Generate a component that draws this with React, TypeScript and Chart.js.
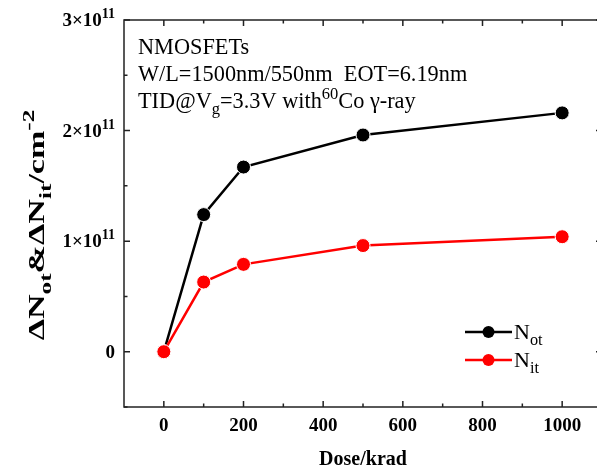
import React, { useEffect, useRef } from "react";
import { Chart, registerables } from "chart.js";

Chart.register(...registerables);

// ---- data ----
const doses = [0, 100, 200, 500, 1000];
const notValues = [0, 1.24e11, 1.67e11, 1.96e11, 2.16e11];
const nitValues = [0, 0.63e11, 0.79e11, 0.96e11, 1.04e11];
const xMajorTicks = [0, 200, 400, 600, 800, 1000];
const xMinorTicks = [100, 300, 500, 700, 900];
const yMajorMantissas = [0, 1, 2, 3]; // × 10^11
const yExponent = 11;
const yMinorTicks = [-0.5e11, 0.5e11, 1.5e11, 2.5e11];
const seriesNames = ["ot", "it"]; // N subscripts
const seriesColors = ["#000000", "#ff0000"];

type Seg = { t: string; s?: "sub" | "sup" };

const SERIF = '"Liberation Serif", "Times New Roman", serif';

function segFont(size: number, weight: string, s?: string) {
  const sz = s ? size * 0.74 : size;
  return `${weight} ${sz}px ${SERIF}`;
}

function measureRich(ctx: CanvasRenderingContext2D, segs: Seg[], size: number, weight: string) {
  let w = 0;
  for (const g of segs) {
    ctx.font = segFont(size, weight, g.s);
    w += ctx.measureText(g.t).width;
  }
  return w;
}

function drawRich(
  ctx: CanvasRenderingContext2D,
  segs: Seg[],
  x: number,
  y: number,
  size: number,
  weight: string,
  align: "left" | "center" | "right",
  color = "#000"
) {
  const total = measureRich(ctx, segs, size, weight);
  let cx = align === "left" ? x : align === "center" ? x - total / 2 : x - total;
  ctx.fillStyle = color;
  ctx.textBaseline = "alphabetic";
  ctx.textAlign = "left";
  for (const g of segs) {
    ctx.font = segFont(size, weight, g.s);
    const dy = g.s === "sub" ? size * 0.28 : g.s === "sup" ? -size * 0.42 : 0;
    ctx.fillText(g.t, cx, y + dy);
    cx += ctx.measureText(g.t).width;
  }
}

const annotationLines: Seg[][] = [
  [{ t: "NMOSFETs" }],
  [{ t: "W/L=1500nm/550nm  EOT=6.19nm" }],
  [
    { t: "TID@V" },
    { t: "g", s: "sub" },
    { t: "=3.3V with" },
    { t: "60", s: "sup" },
    { t: "Co \u03b3-ray" },
  ],
];

const yTitle: Seg[] = [
  { t: "\u0394N" },
  { t: "ot", s: "sub" },
  { t: "&\u0394N" },
  { t: "it", s: "sub" },
  { t: "/cm" },
  { t: "-2", s: "sup" },
];

const decorPlugin = {
  id: "decor",
  afterDraw(chart: any) {
    const { ctx, chartArea: a, scales } = chart;
    const xs = scales.x;
    const ys = scales.y;
    ctx.save();
    // frame
    ctx.strokeStyle = "#222";
    ctx.lineWidth = 1.5;
    ctx.strokeRect(a.left, a.top, a.right - a.left, a.bottom - a.top);
    // ticks (inward, all four sides)
    const major = 6;
    const minor = 3.5;
    ctx.lineWidth = 1.5;
    ctx.beginPath();
    const xt = (v: number, len: number) => {
      const px = xs.getPixelForValue(v);
      ctx.moveTo(px, a.bottom);
      ctx.lineTo(px, a.bottom - len);
      ctx.moveTo(px, a.top);
      ctx.lineTo(px, a.top + len);
    };
    const yt = (v: number, len: number) => {
      const py = ys.getPixelForValue(v);
      ctx.moveTo(a.left, py);
      ctx.lineTo(a.left + len, py);
      ctx.moveTo(a.right, py);
      ctx.lineTo(a.right - len, py);
    };
    xMajorTicks.forEach((v) => xt(v, major));
    xMinorTicks.forEach((v) => xt(v, minor));
    yMajorMantissas.forEach((m) => yt(m * Math.pow(10, yExponent), major));
    yMinorTicks.forEach((v) => yt(v, minor));
    ctx.stroke();

    // x tick labels
    const tickSize = 19;
    xMajorTicks.forEach((v) => {
      drawRich(ctx, [{ t: String(v) }], xs.getPixelForValue(v), a.bottom + 24, tickSize, "bold", "center");
    });
    // y tick labels
    yMajorMantissas.forEach((m) => {
      const py = ys.getPixelForValue(m * Math.pow(10, yExponent));
      const segs: Seg[] =
        m === 0 ? [{ t: "0" }] : [{ t: `${m}\u00d710` }, { t: String(yExponent), s: "sup" }];
      drawRich(ctx, segs, a.left - 9, py + tickSize * 0.33, tickSize, "bold", "right");
    });
    // x title
    drawRich(ctx, [{ t: "Dose/krad" }], 363, a.bottom + 58, 20, "bold", "center");
    // y title (stretched along its length like the reference)
    ctx.save();
    ctx.translate(44, 225);
    ctx.rotate(-Math.PI / 2);
    ctx.scale(1.42, 1);
    drawRich(ctx, yTitle, 0, 0, 24, "bold", "center");
    ctx.restore();

    // annotation
    annotationLines.forEach((segs, i) => {
      drawRich(ctx, segs, a.left + 14, a.top + 34 + i * 27, 22.3, "normal", "left");
    });

    // legend
    const lx0 = 465;
    const lx1 = 512;
    const ly = [332, 360];
    seriesNames.forEach((name, i) => {
      const y = ly[i];
      ctx.strokeStyle = seriesColors[i];
      ctx.lineWidth = 2.5;
      ctx.beginPath();
      ctx.moveTo(lx0, y);
      ctx.lineTo(lx1, y);
      ctx.stroke();
      ctx.beginPath();
      ctx.arc((lx0 + lx1) / 2, y, 6, 0, Math.PI * 2);
      ctx.fillStyle = seriesColors[i];
      ctx.fill();
      drawRich(ctx, [{ t: "N" }, { t: name, s: "sub" }], lx1 + 2, y + 7, 22, "normal", "left");
    });
    ctx.restore();
  },
};

export default function App() {
  const ref = useRef<HTMLCanvasElement | null>(null);
  useEffect(() => {
    document.body.style.margin = "0";
    document.body.style.overflow = "hidden";
    const canvas = ref.current!;
    const chart = new Chart(canvas, {
      type: "line",
      data: {
        datasets: [
          {
            label: "Not",
            data: doses.map((d, i) => ({ x: d, y: notValues[i] })),
            borderColor: seriesColors[0],
            backgroundColor: seriesColors[0],
            pointBackgroundColor: seriesColors[0],
            pointBorderColor: "#ffffff",
            pointBorderWidth: 1,
            pointRadius: 7,
            borderWidth: 2.5,
            order: 2,
          },
          {
            label: "Nit",
            data: doses.map((d, i) => ({ x: d, y: nitValues[i] })),
            borderColor: seriesColors[1],
            backgroundColor: seriesColors[1],
            pointBackgroundColor: seriesColors[1],
            pointBorderColor: "#ffffff",
            pointBorderWidth: 1,
            pointRadius: 7,
            borderWidth: 2.5,
            order: 1,
          },
        ],
      },
      options: {
        animation: false,
        responsive: false,
        devicePixelRatio: 1,
        layout: { padding: { left: 124, top: 20, right: 6, bottom: 62 } },
        plugins: { legend: { display: false }, tooltip: { enabled: false } },
        scales: {
          x: { type: "linear", min: -100, max: 1100, display: false },
          y: { type: "linear", min: -0.5e11, max: 3e11, display: false },
        },
      },
      plugins: [decorPlugin],
    });
    return () => chart.destroy();
  }, []);
  return (
    <div style={{ position: "absolute", left: 0, top: 0, width: 597, height: 469, overflow: "hidden", background: "#fff" }}>
      <canvas ref={ref} width={610} height={469} style={{ width: 610, height: 469 }} />
    </div>
  );
}
